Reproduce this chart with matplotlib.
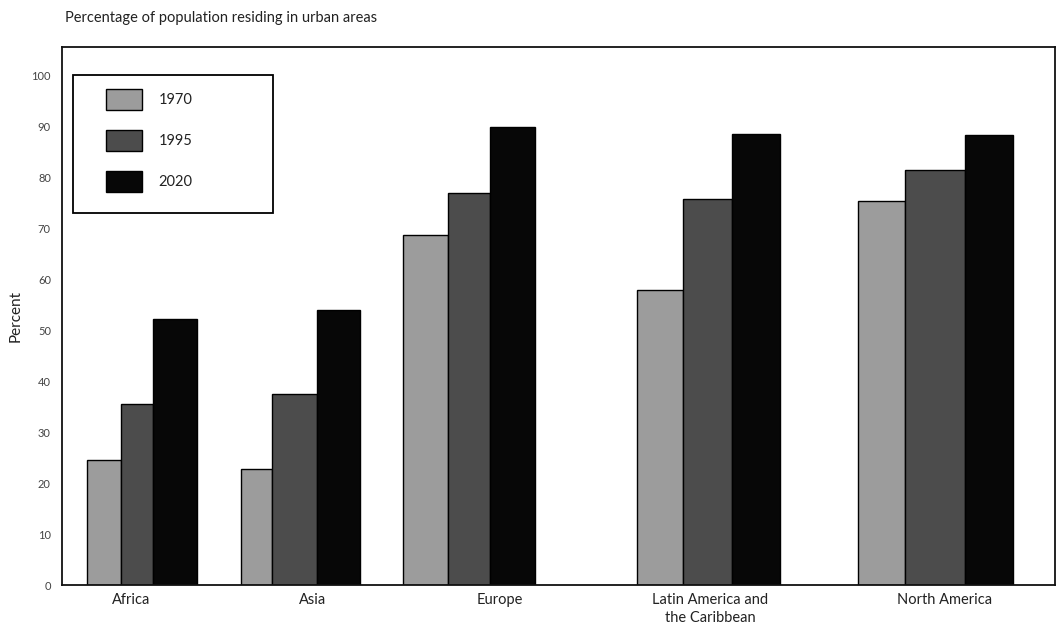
import matplotlib.pyplot as plt
from matplotlib.patches import Rectangle

regions = ["Africa", "Asia", "Europe", "Latin America and\nthe Caribbean", "North America"]
years = ["1970", "1995", "2020"]
urban_1970 = [24.5, 22.7, 68.6, 57.8, 75.3]
urban_1995 = [35.5, 37.5, 76.9, 75.7, 81.4]
urban_2020 = [52.2, 54.0, 89.8, 88.4, 88.3]

# layout (x in pixel-like units of the axes)
group_left = [87, 241, 403, 637, 858]
bar_w = [[34, 32, 44], [31, 45, 43], [45, 42, 45], [46, 49, 48], [47, 60, 48]]
label_x = [131, 313, 500, 710, 945]
colors = ["#9c9c9c", "#4c4c4c", "#070707"]

W, H = 1060, 633
plt.rcParams["font.family"] = ["Lato", "DejaVu Sans"]
fig = plt.figure(figsize=(W / 100, H / 100), dpi=100)
ax = fig.add_axes([62 / W, 1 - 585 / H, (1055 - 62) / W, (585 - 47) / H])

series = [urban_1970, urban_1995, urban_2020]
for k, vals in enumerate(series):
    for i, v in enumerate(vals):
        x0 = group_left[i] + sum(bar_w[i][:k])
        ax.bar(x0, v, width=bar_w[i][k], align="edge", color=colors[k],
               edgecolor="black", linewidth=1.0,
               label=years[k] if i == 0 else None)

ax.set_xlim(62, 1055)
ax.set_ylim(0, 105.5)
ax.set_yticks(range(0, 101, 10))
ax.set_xticks(label_x)
ax.set_xticklabels(regions, fontsize=10.5, color="#222222", linespacing=1.3)
ax.tick_params(axis="both", length=0)
ax.tick_params(axis="y", labelsize=8, labelcolor="#444444", pad=8)
ax.tick_params(axis="x", pad=6)
for s in ax.spines.values():
    s.set_linewidth(1.3)
    s.set_color("#111111")

ax.set_ylabel("Percent", fontsize=11, color="#222222", labelpad=6)
fig.text(65 / W, 1 - 18 / H, "Percentage of population residing in urban areas",
         fontsize=10.5, color="#222222", va="center", ha="left")

# legend without frame, plus a separate box drawn around it
leg = ax.legend(loc="upper left", bbox_to_anchor=(106 / W, 1 - 89 / H),
                bbox_transform=fig.transFigure, frameon=False, fontsize=10.5,
                handlelength=2.5, handleheight=1.8, handletextpad=1.1,
                borderpad=0.0, labelspacing=1.4, borderaxespad=0.0)
for t in leg.get_texts():
    t.set_color("#222222")
fig.patches.append(Rectangle((73 / W, 1 - 213 / H), 200 / W, 138 / H, fill=False,
                             edgecolor="black", linewidth=1.3,
                             transform=fig.transFigure, figure=fig))

fig.savefig("out.png", dpi=100)
